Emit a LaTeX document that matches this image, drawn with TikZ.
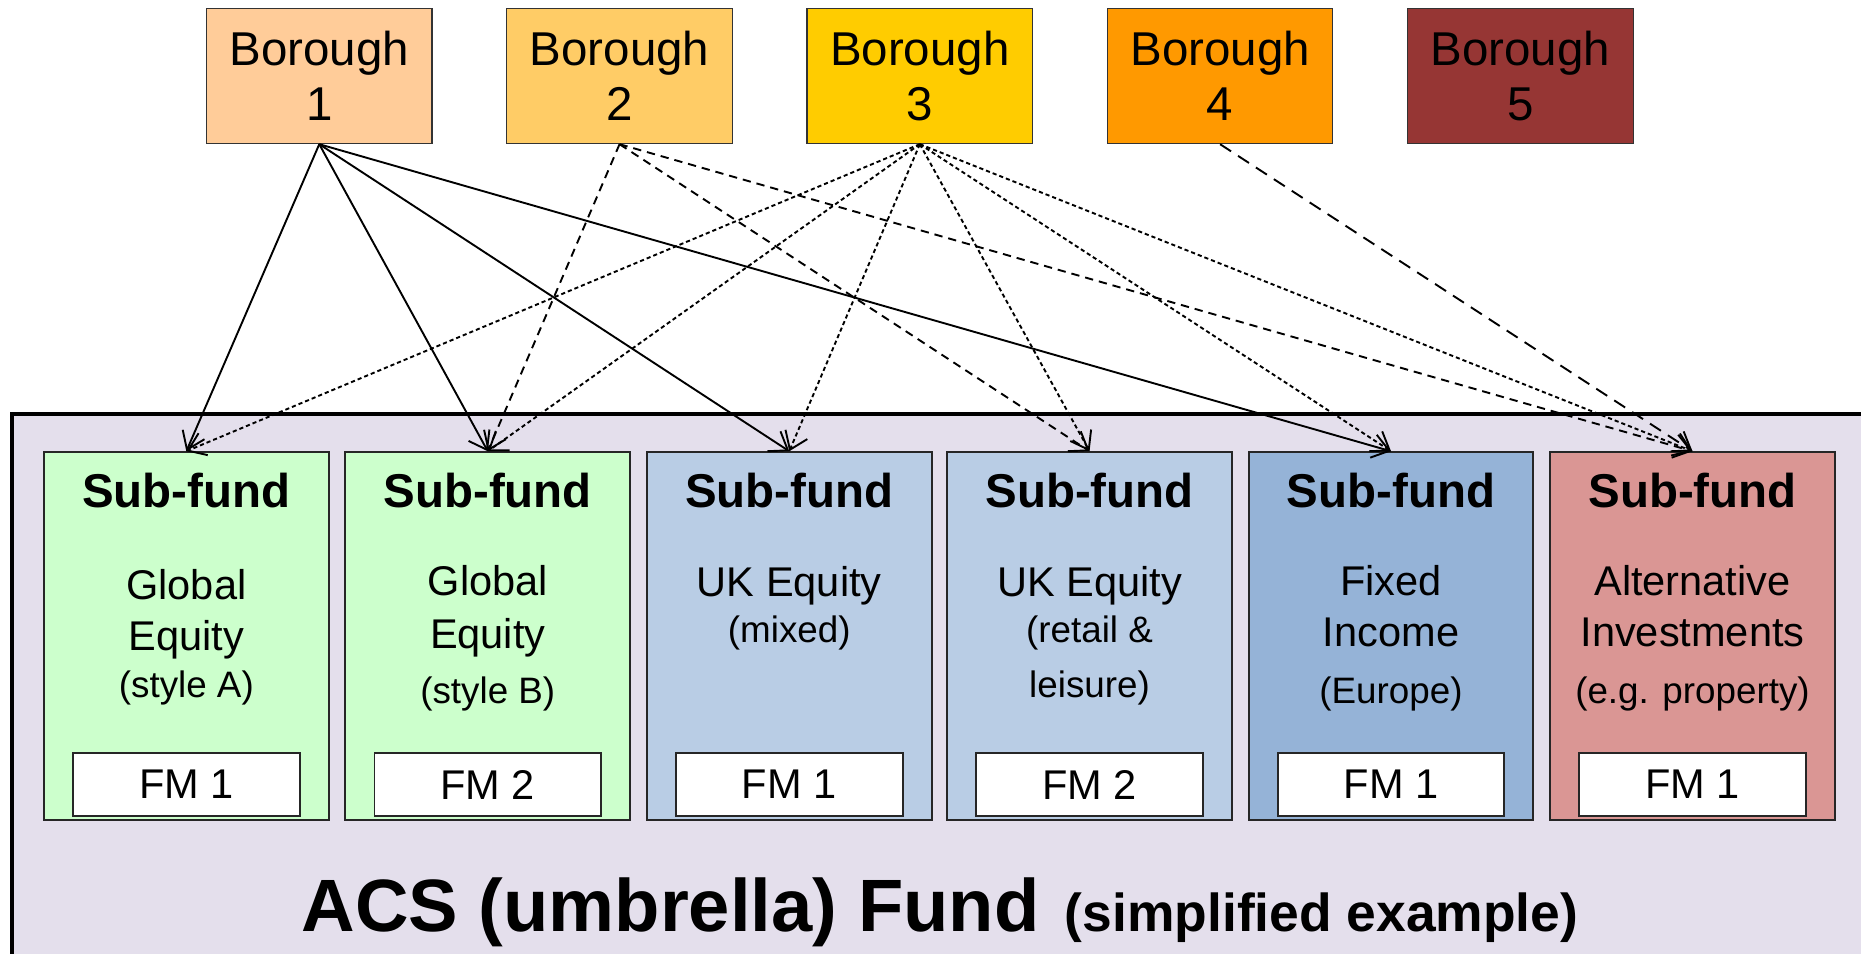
\documentclass[tikz,border=0pt]{standalone}
\usepackage{fontspec}
\setmainfont{Liberation Sans}
\usetikzlibrary{arrows.meta}

\definecolor{bA}{HTML}{FFCC99}
\definecolor{bB}{HTML}{FFCC66}
\definecolor{bC}{HTML}{FFCC00}
\definecolor{bD}{HTML}{FF9900}
\definecolor{bE}{HTML}{963634}
\definecolor{umb}{HTML}{E4DFEC}
\definecolor{green}{HTML}{CCFFCC}
\definecolor{lblue}{HTML}{B9CDE5}
\definecolor{mblue}{HTML}{95B3D7}
\definecolor{rose}{HTML}{DA9694}

\tikzset{
  borough/.style={draw=black!80, line width=1pt, minimum width=190pt, minimum height=114pt,
    align=center, font=\fontsize{40}{46}\selectfont, inner sep=0pt},
  subfund/.style={draw=black!85, line width=1.6pt, minimum width=240pt, minimum height=310pt, inner sep=0pt},
  fmbox/.style={draw=black!85, fill=white, line width=1.6pt, minimum width=191pt, minimum height=53pt,
    inner sep=0pt, font=\fontsize{35}{35}\selectfont},
  head/.style={anchor=base, inner sep=0pt, font=\fontsize{40}{40}\selectfont\bfseries},
  big/.style={anchor=base, inner sep=0pt, font=\fontsize{35}{35}\selectfont},
  small/.style={anchor=base, inner sep=0pt, font=\fontsize{31}{31}\selectfont},
  link/.style={line width=1.6pt, -{Straight Barb[length=14pt,width=20pt,line width=1.6pt]}},
  solidlink/.style={link},
  dashA/.style={link, dash pattern=on 7pt off 5pt},
  dashB/.style={link, dash pattern=on 3.5pt off 2.5pt},
  dashC/.style={link, dash pattern=on 11pt off 7pt},
}

\begin{document}
\begin{tikzpicture}[x=1pt, y=-1pt]
\useasboundingbox (0,0) rectangle (1568,803);
\fill[white] (0,0) rectangle (1568,803);

% umbrella fund, running past the lower and right edges
\begin{scope}
\clip (0,0) rectangle (1568,803);
\draw[fill=umb, line width=3.5pt] (10,349) rectangle (1600,840);
\end{scope}

% boroughs
\node[borough, fill=bA] (b1) at (269,64) {Borough\\1};
\node[borough, fill=bB] (b2) at (522,64) {Borough\\2};
\node[borough, fill=bC] (b3) at (775,64) {Borough\\3};
\node[borough, fill=bD] (b4) at (1028,64) {Borough\\4};
\node[borough, fill=bE] (b5) at (1281,64) {Borough\\5};

% sub-funds
\node[subfund, fill=green] (s1) at (157,536) {};
\node[subfund, fill=green] (s2) at (411,536) {};
\node[subfund, fill=lblue] (s3) at (665,536) {};
\node[subfund, fill=lblue] (s4) at (918,536) {};
\node[subfund, fill=mblue] (s5) at (1172,536) {};
\node[subfund, fill=rose]  (s6) at (1426,536) {};

% headings
\node[head] (h1) at (157,428) {Sub-fund};
\node[head] (h2) at (411,428) {Sub-fund};
\node[head] (h3) at (665,428) {Sub-fund};
\node[head] (h4) at (918,428) {Sub-fund};
\node[head] (h5) at (1172,428) {Sub-fund};
\node[head] (h6) at (1426,428) {Sub-fund};

% descriptions
\node[big]   (d1a) at (157,505) {Global};
\node[big]   (d1b) at (157,548) {Equity};
\node[small] (d1c) at (157,588) {(style A)};
\node[big]   (d2a) at (411,502) {Global};
\node[big]   (d2b) at (411,546) {Equity};
\node[small] (d2c) at (411,593) {(style B)};
\node[big]   (d3a) at (665,503) {UK Equity};
\node[small] (d3b) at (665,541) {(mixed)};
\node[big]   (d4a) at (918,503) {UK Equity};
\node[small] (d4b) at (918,541) {(retail \&};
\node[small] (d4c) at (918,588) {leisure)};
\node[big]   (d5a) at (1172,502) {Fixed};
\node[big]   (d5b) at (1172,545) {Income};
\node[small] (d5c) at (1172,593) {(Europe)};
\node[big]   (d6a) at (1426,502) {Alternative};
\node[big]   (d6b) at (1426,545) {Investments};
\node[small] (d6c) at (1426,593) {(e.g. property)};

% fund managers
\node[fmbox] (f1) at (157,661) {FM 1};
\node[fmbox] (f2) at (411,661) {FM 2};
\node[fmbox] (f3) at (665,661) {FM 1};
\node[fmbox] (f4) at (918,661) {FM 2};
\node[fmbox] (f5) at (1172,661) {FM 1};
\node[fmbox] (f6) at (1426,661) {FM 1};

% title
\node[anchor=base west, inner sep=0pt, font=\fontsize{62.5}{62.5}\selectfont\bfseries] (title) at (254,785)
  {ACS (umbrella) Fund};
\node[anchor=base west, inner sep=0pt, font=\fontsize{45}{45}\selectfont\bfseries] (sub) at (897,785)
  {(simplified example)};

% allocations
\draw[solidlink] (b1.south) -- (s1.north);
\draw[solidlink] (b1.south) -- (s2.north);
\draw[solidlink] (b1.south) -- (s3.north);
\draw[solidlink] (b1.south) -- (s5.north);

\draw[dashA] (b2.south) -- (s2.north);
\draw[dashA] (b2.south) -- (s4.north);
\draw[dashA] (b2.south) -- (s6.north);

\draw[dashB] (b3.south) -- (s1.north);
\draw[dashB] (b3.south) -- (s2.north);
\draw[dashB] (b3.south) -- (s3.north);
\draw[dashB] (b3.south) -- (s4.north);
\draw[dashB] (b3.south) -- (s5.north);
\draw[dashB] (b3.south) -- (s6.north);

\draw[dashC] (b4.south) -- (s6.north);
\end{tikzpicture}
\end{document}
